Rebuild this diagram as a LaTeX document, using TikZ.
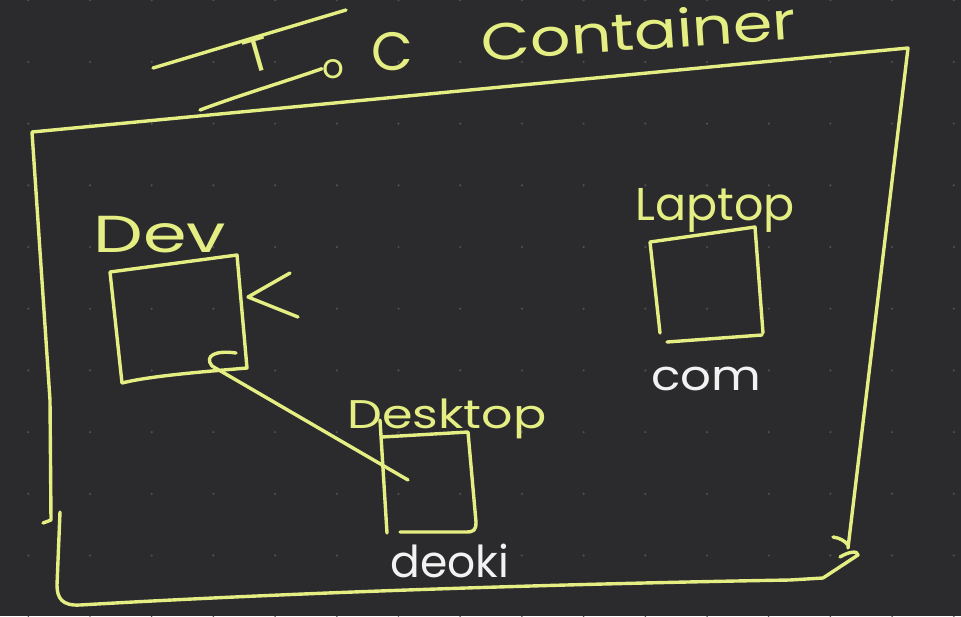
\documentclass[tikz,border=0pt]{standalone}
\usepackage{fontspec}
\setmainfont{Poppins}
\definecolor{bgc}{RGB}{43,43,45}
\definecolor{penc}{RGB}{228,238,130}
\definecolor{dotc}{RGB}{80,80,82}
\definecolor{chalk}{RGB}{242,242,242}
\tikzset{
  pen/.style={draw=penc, line width=3.4pt, line cap=round, line join=round},
  lbl/.style={text=penc, inner sep=0pt, anchor=base},
  wlbl/.style={text=chalk, inner sep=0pt, anchor=base},
}
\newcommand{\fsz}[1]{\fontsize{#1}{#1}\selectfont}
\begin{document}
\begin{tikzpicture}[x=1pt,y=-1pt]
\fill[bgc] (0,0) rectangle (961,616);
\useasboundingbox (0,0) rectangle (961,616);
\foreach \i in {0,...,15}
  \foreach \j in {0,...,10}
    \fill[dotc] (28.3+61.7*\i, 0.2+61.7*\j) circle[radius=1.2pt];

% ---------- title ----------
\draw[pen] (153,68) -- (346,10);
\node[text=penc, inner sep=0pt, rotate=16, font=\fsz{48}] (tT) at (257,55) {T};
\node[lbl, font=\fsz{34}] (to) at (333,78) {o};
\node[lbl, font=\fsz{54}] (tC) at (392,70) {C};
\node[lbl, rotate=4, font=\fsz{52}] (tCont) at (640,50) {\scalebox{1.22}[1]{Container}};
\coordinate (oTail) at (200,110);
\draw[pen] (oTail) .. controls (240,95) and (290,80) .. (to.west);

% ---------- frame ----------
\coordinate (fTL) at (32,132);
\coordinate (fTR) at (908,48);
\coordinate (fBR) at (848,548);
\coordinate (fBL) at (60,512);
\draw[pen] (43,523) -- (51,520) -- (50,400) -- (fTL) -- (fTR) -- (fBR);
\draw[pen] (833,537) .. controls (840,538) and (845,541) .. (848,545);
\draw[pen] (840,557) .. controls (848,552) and (858,550) .. (858,555)
  -- (823,578) -- (790,580) .. controls (500,585) and (250,595) .. (80,605)
  .. controls (62,606) and (57,598) .. (57,585) -- (fBL);

% ---------- Dev ----------
\node[lbl, font=\fsz{52}] (devl) at (160,252) {\scalebox{1.35}[1]{Dev}};
\coordinate (devTL) at (110,272);
\coordinate (devTR) at (237,255);
\coordinate (devBR) at (247,368);
\coordinate (devBL) at (122,383);
\draw[pen] (devBL) -- (devTL) -- (devTR) -- (devBR)
  .. controls (200,372) and (150,376) .. (devBL);
\draw[pen] (290,273) -- (248,297) -- (298,317);

% ---------- Desktop ----------
\node[lbl, font=\fsz{40}] (deskl) at (447,428) {\scalebox{1.23}[1]{Desktop}};
\draw[pen] (380,420) -- (387,533);
\draw[pen] (382,437) -- (468,432) -- (476,522)
  .. controls (476,530) and (474,532) .. (466,532) -- (400,532);
\node[wlbl, font=\fsz{44}] (deoki) at (450,577) {deoki};

% ---------- arrow Desktop -> Dev ----------
\coordinate (aStart) at (408,480);
\coordinate (aTip) at (212,366);
\draw[pen] (aStart) -- (aTip);
\draw[pen] (aTip) .. controls (204,356) and (215,350) .. (236,353);

% ---------- Laptop ----------
\node[lbl, font=\fsz{46}] (lapl) at (715,220) {Laptop};
\draw[pen] (660,333) -- (650,242) -- (755,227) -- (763,333);
\draw[pen] (667,342) -- (762,335);
\node[wlbl, font=\fsz{42}] (com) at (706,390) {\scalebox{1.15}[1]{com}};
\end{tikzpicture}
\end{document}
